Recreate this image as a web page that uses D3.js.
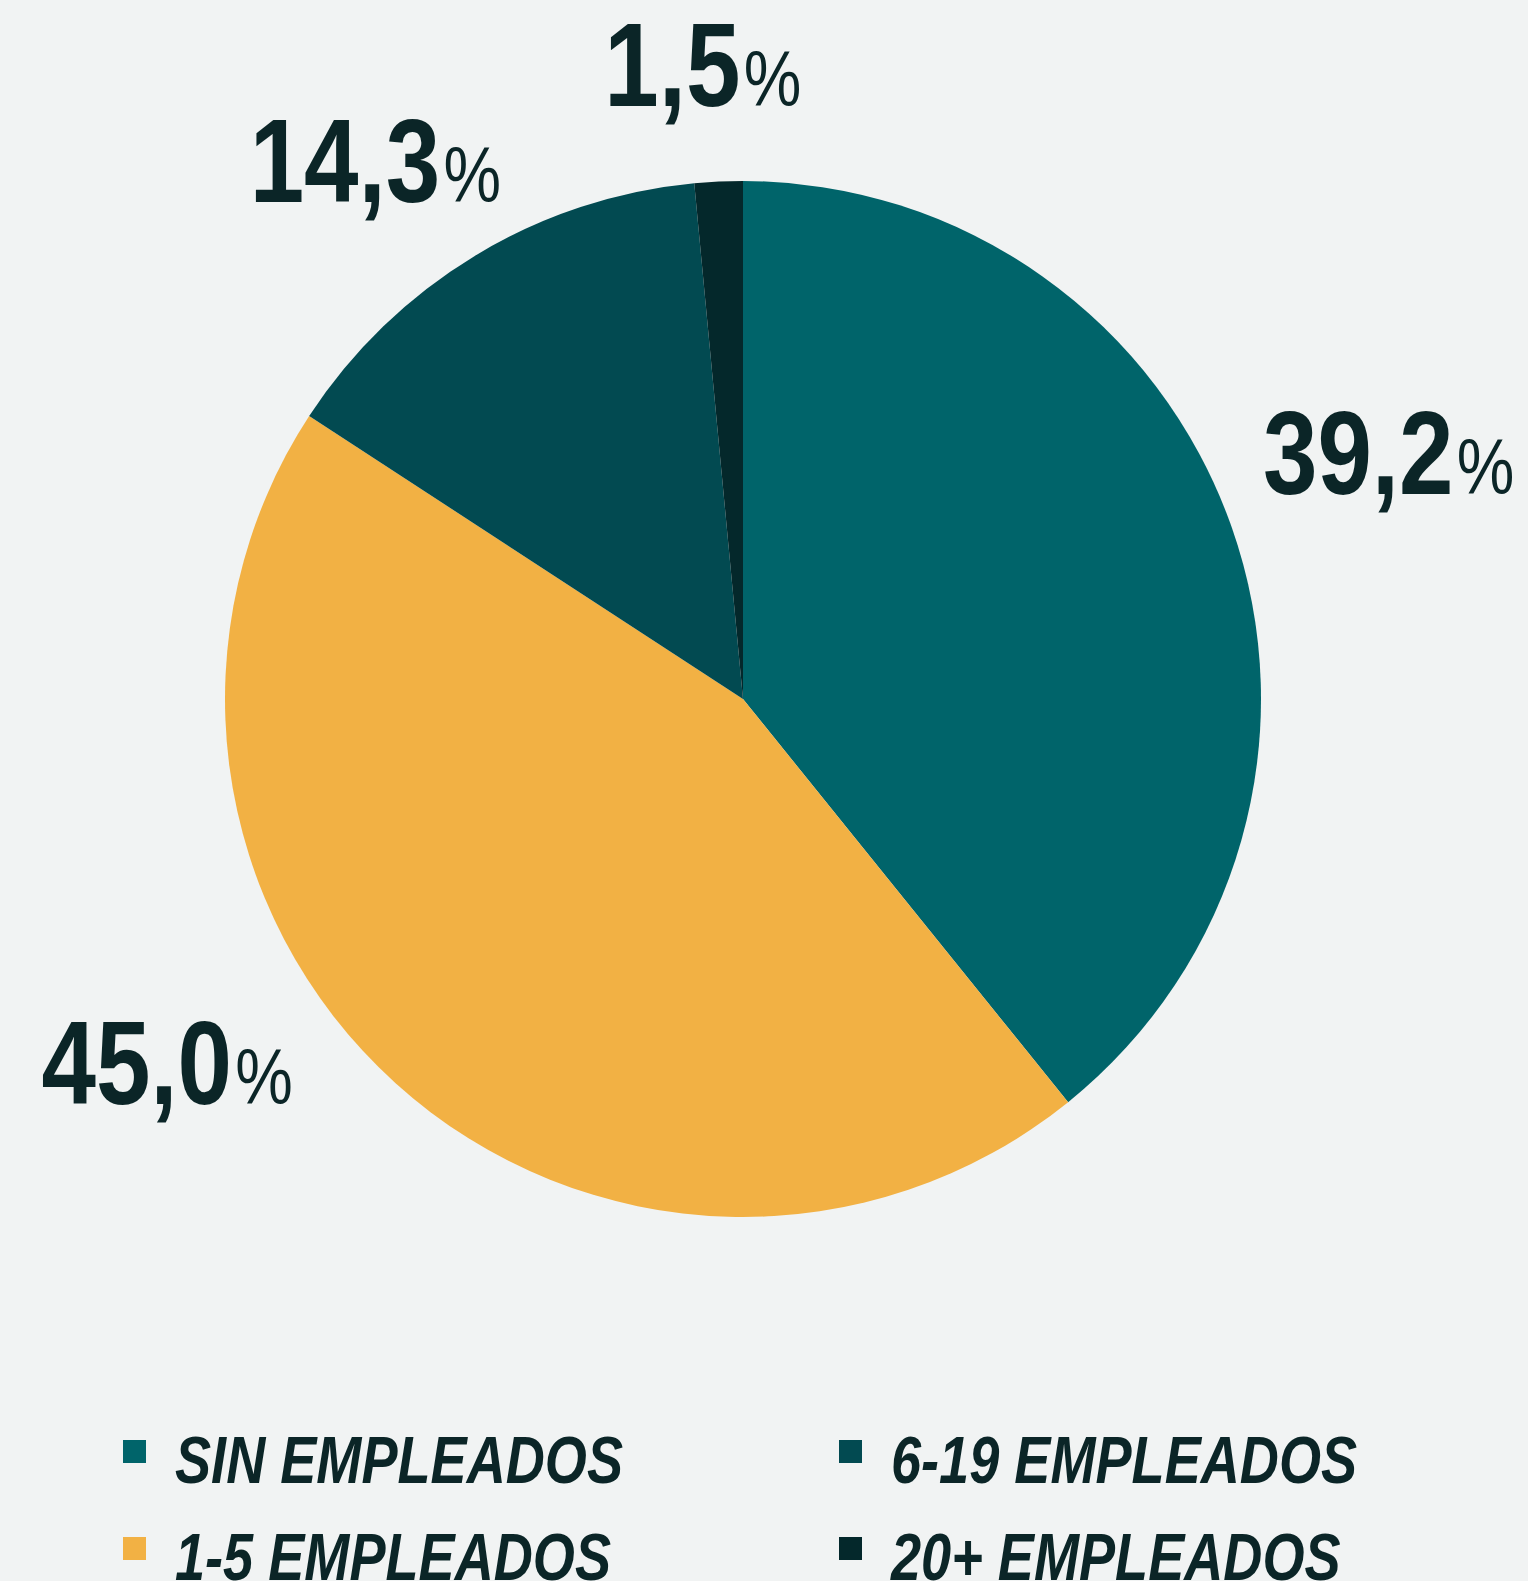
<!DOCTYPE html>
<html>
<head>
<meta charset="utf-8">
<script src="https://cdn.jsdelivr.net/npm/d3@7"></script>
<style>
  html, body { margin: 0; padding: 0; background: #f1f3f3; }
  svg { display: block; }
</style>
</head>
<body>
<div id="chart"></div>
<script>
const categories = ["SIN EMPLEADOS", "1-5 EMPLEADOS", "6-19 EMPLEADOS", "20+ EMPLEADOS"]
const values = [39.2, 45.0, 14.3, 1.5]
const valueLabels = ["39,2", "45,0", "14,3", "1,5"]
const colors = ["#00646a", "#f2b144", "#024a51", "#04282b"]
const legendOrder = ["SIN EMPLEADOS", "6-19 EMPLEADOS", "1-5 EMPLEADOS", "20+ EMPLEADOS"]

document.addEventListener("DOMContentLoaded", setup)

function setup(){
    const width = 1528
    const height = 1581
    const cx = 743, cy = 699, radius = 518
    const labelRadius = 620
    // small nudges so the labels sit where the designer put them
    const nudge = [[61, 1], [-160, -55], [-47, 34], [-11, 26]]
    const ink = "#0b2527"
    const narrow = 0.83 // the original face is condensed

    const svg = d3.select("#chart").append("svg")
        .attr("width", width)
        .attr("height", height)

    svg.append("rect")
        .attr("width", width)
        .attr("height", height)
        .attr("fill", "#f1f3f3")

    const data = categories.map((c, i) => ({name: c, value: values[i], label: valueLabels[i]}))
    const color = d3.scaleOrdinal().domain(categories).range(colors)

    const pie = d3.pie().sort(null).value(d => d.value)
    const arc = d3.arc().innerRadius(0).outerRadius(radius)
    const labelArc = d3.arc().innerRadius(labelRadius).outerRadius(labelRadius)

    const g = svg.append("g").attr("transform", `translate(${cx},${cy})`)
    const arcs = pie(data)

    g.selectAll("path")
        .data(arcs)
        .enter()
        .append("path")
        .attr("d", arc)
        .attr("fill", d => color(d.data.name))

    const labels = g.selectAll("text.value")
        .data(arcs)
        .enter()
        .append("text")
        .attr("class", "value")
        .attr("text-anchor", "middle")
        .attr("transform", (d, i) => {
            const c = labelArc.centroid(d)
            return `translate(${c[0] + nudge[i][0]},${c[1] + nudge[i][1]}) scale(${narrow},1)`
        })
        .attr("fill", ink)
        .style("font-family", "'Liberation Sans', Arial, sans-serif")
    labels.append("tspan")
        .style("font-size", "118px")
        .style("font-weight", "bold")
        .text(d => d.data.label)
    labels.append("tspan")
        .attr("dx", 4)
        .style("font-size", "78px")
        .style("font-weight", "normal")
        .text("%")

    // legend, two columns
    const legendX = d3.scaleOrdinal().domain([0, 1]).range([123, 839])
    const legendY = d3.scaleOrdinal().domain([0, 1]).range([1483, 1580])
    const legend = svg.append("g")
        .selectAll("g")
        .data(legendOrder)
        .enter()
        .append("g")
        .attr("transform", (d, i) => `translate(${legendX(i % 2)},${legendY(Math.floor(i / 2))})`)
    legend.append("rect")
        .attr("x", 0)
        .attr("y", -43)
        .attr("width", 23)
        .attr("height", 23)
        .attr("fill", d => color(d))
    legend.append("text")
        .attr("transform", `translate(52,0) scale(0.82,1)`)
        .attr("fill", ink)
        .style("font-family", "'Liberation Sans', Arial, sans-serif")
        .style("font-size", "66px")
        .style("font-weight", "bold")
        .style("font-style", "italic")
        .text(d => d)
}
</script>
</body>
</html>
